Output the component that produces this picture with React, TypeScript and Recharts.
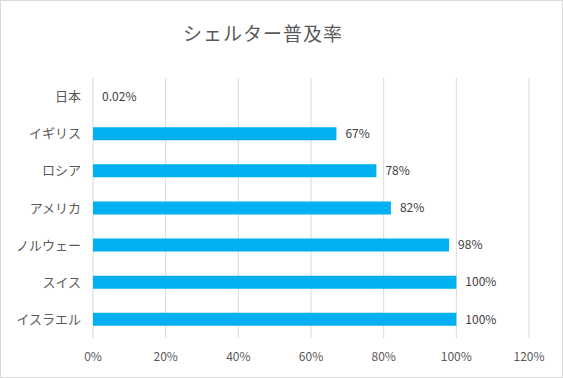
import { Bar, BarChart, CartesianGrid, LabelList, XAxis, YAxis } from "recharts";

const countries = ["日本", "イギリス", "ロシア", "アメリカ", "ノルウェー", "スイス", "イスラエル"];
const rates = [0.02, 67, 78, 82, 98, 100, 100];
const xTicks = [0, 20, 40, 60, 80, 100, 120];

const data = countries.map((name, i) => ({ name, rate: rates[i] }));

const FONT = '"Noto Sans CJK JP", "Noto Sans", sans-serif';

export default function App() {
  return (
    <div
      style={{
        position: "absolute",
        left: 0,
        top: 0,
        width: 563,
        height: 378,
        boxSizing: "border-box",
        border: "1px solid #d9d9d9",
        background: "#fff",
        fontFamily: FONT,
      }}
    >
      <div
        style={{
          position: "absolute",
          left: 0,
          width: 524,
          top: 18,
          textAlign: "center",
          fontSize: 19,
          letterSpacing: 1,
          color: "#595959",
          lineHeight: "28px",
        }}
      >
        シェルター普及率
      </div>
      <BarChart
        width={561}
        height={376}
        data={data}
        layout="vertical"
        margin={{ top: 77, right: 33, left: 12, bottom: 9 }}
        barSize={13}
      >
        <CartesianGrid stroke="#d9d9d9" horizontal={false} />
        <XAxis
          type="number"
          domain={[0, 120]}
          ticks={xTicks}
          tickFormatter={(v: number) => `${v}%`}
          axisLine={false}
          tickLine={false}
          tickMargin={8}
          height={30}
          tick={{ fill: "#595959", fontSize: 12, fontFamily: FONT }}
        />
        <YAxis
          type="category"
          dataKey="name"
          width={80}
          axisLine={false}
          tickLine={false}
          tickMargin={6}
          tick={{ fill: "#595959", fontSize: 13, fontFamily: FONT }}
        />
        <Bar dataKey="rate" fill="#00b0f0" isAnimationActive={false}>
          <LabelList
            dataKey="rate"
            position="right"
            offset={9}
            formatter={(v: any) => `${v}%`}
            style={{ fill: "#404040", fontSize: 12, fontFamily: FONT }}
          />
        </Bar>
      </BarChart>
    </div>
  );
}
